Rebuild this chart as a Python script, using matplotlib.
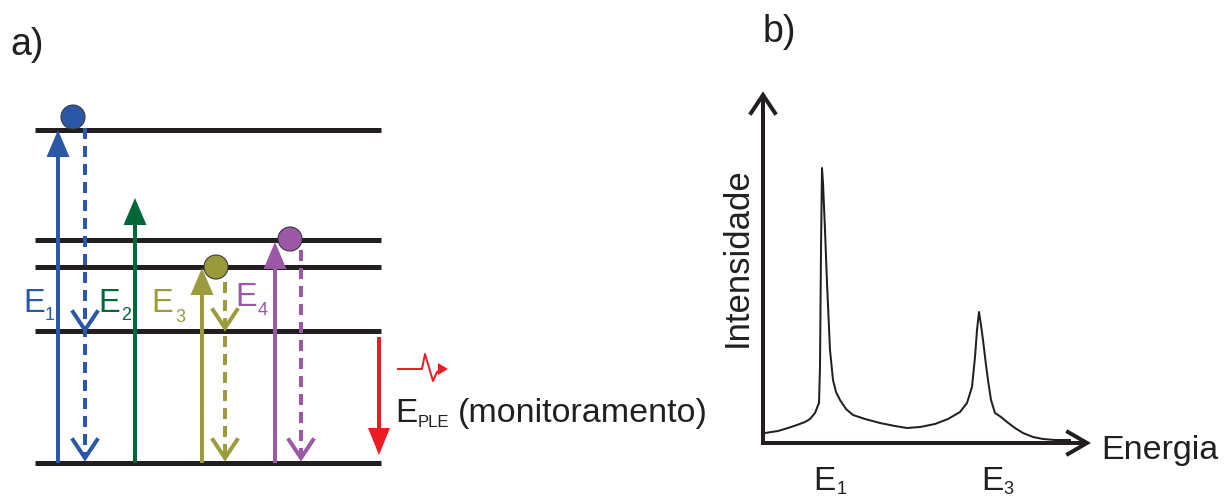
"""Diagrama de níveis de energia (a) e espectro de PLE esquemático (b)."""
import matplotlib
matplotlib.use("Agg")
import matplotlib.pyplot as plt
import matplotlib.patches as patches

plt.rcParams["font.family"] = ["Liberation Sans", "DejaVu Sans"]
plt.rcParams["lines.scale_dashes"] = False

PX = 0.72          # pontos por pixel (dpi 100)
INK = "#231f20"

# ---- painel a: níveis (y em pixels da figura) ----
LEVELS = [130, 240, 267, 331, 463]
LEVEL_X = (35, 381)
GROUND = 463

# setas de excitação
EXC_X = [58, 135, 202, 275]
EXC_TIP = [130, 198, 268, 242]
EXC_COLORS = ["#2b57a7", "#006838", "#9c9b3d", "#9b58a5"]
EXC_SUBS = ["1", "2", "3", "4"]
LABEL_X = [23, 98, 151, 235]
LABEL_Y = [312, 312, 312, 306]
SUB_X = [45, 121, 175, 258]
SUB_Y = [320, 320, 322, 315]

# emissões (tracejadas) com pontas abertas
DASH_X = [85, 225, 301]
DASH_TOP = [128, 282, 250]
DASH_HEADS = [[330, 458], [328, 458], [458]]
DASH_COLORS = ["#2b57a7", "#9c9b3d", "#9b58a5"]

# elétrons
DOT_X = [73, 216, 290]
DOT_Y = [117, 267, 239]
DOT_COLORS = ["#2b57a7", "#989a3b", "#9b58a5"]

# monitoramento
RED = "#ed1c24"
PLE_X, PLE_TOP, PLE_TIP = 379, 337, 455
WIGGLE_X = [398, 422, 425, 433, 437, 441]
WIGGLE_Y = [369, 369, 354, 381, 372, 369]

# ---- painel b: espectro (pixels da figura) ----
AX_ORIGIN = (763, 443)
AX_YTIP = 95
AX_XTIP = 1087
spec_x = [765, 778, 788, 797, 805, 810, 815, 819, 820, 821, 822, 823, 825,
          827, 830, 833, 836, 840, 846, 853, 865, 880, 895, 907, 920, 935,
          948, 960, 967, 972, 975, 977, 979, 981, 983, 986, 988, 991, 995,
          1001, 1007, 1015, 1023, 1033, 1043, 1055, 1070]
spec_y = [433, 431, 428, 425, 422, 419, 413, 403, 367, 250, 168, 183, 230,
          283, 350, 380, 392, 400, 409, 415, 419, 423, 426, 428, 427, 424,
          419, 412, 403, 387, 357, 330, 312, 325, 340, 365, 380, 400, 413,
          417, 422, 428, 433, 437, 439, 440, 440]
PEAK_LABELS = [("1", 813, 837), ("3", 981, 1003)]

fig = plt.figure(figsize=(12.26, 4.97), dpi=100)
ax = fig.add_axes([0, 0, 1, 1])
ax.set_xlim(0, 1226)
ax.set_ylim(497, 0)
ax.axis("off")

# níveis
for y in LEVELS:
    ax.plot(LEVEL_X, [y, y], color=INK, lw=5 * PX, solid_capstyle="butt",
            zorder=2)

# excitação
for x, tip, c in zip(EXC_X, EXC_TIP, EXC_COLORS):
    ax.add_patch(patches.FancyArrow(x, GROUND, 0, tip - GROUND, width=4,
                                    head_width=23, head_length=27,
                                    length_includes_head=True, color=c,
                                    lw=0, zorder=3))

for sub, lx, ly, sx, sy, c in zip(EXC_SUBS, LABEL_X, LABEL_Y, SUB_X, SUB_Y,
                                  EXC_COLORS):
    ax.text(lx, ly, "E", color=c, fontsize=23.5, va="baseline", ha="left")
    ax.text(sx, sy, sub, color=c, fontsize=13, va="baseline", ha="left")

# emissão
for x, top, heads, c in zip(DASH_X, DASH_TOP, DASH_HEADS, DASH_COLORS):
    ax.plot([x, x], [top, heads[-1]], color=c, lw=4 * PX,
            dashes=(11 * PX, 7 * PX), solid_capstyle="butt", zorder=3)
    for h in heads:
        ax.plot([x - 12, x, x + 12], [h - 18, h, h - 18], color=c,
                lw=4 * PX, solid_joinstyle="miter", zorder=3)

for x, y, c in zip(DOT_X, DOT_Y, DOT_COLORS):
    ax.add_patch(patches.Circle((x, y), 12, facecolor=c, edgecolor="#3a3a3a",
                                lw=0.8, zorder=5))

# seta de monitoramento
ax.add_patch(patches.FancyArrow(PLE_X, PLE_TOP, 0, PLE_TIP - PLE_TOP,
                                width=4, head_width=22, head_length=27,
                                length_includes_head=True, color=RED, lw=0,
                                zorder=3))
ax.plot(WIGGLE_X, WIGGLE_Y, color=RED, lw=2 * PX, zorder=3)
ax.add_patch(patches.Polygon([(438, 363), (448, 369), (438, 375)],
                             closed=True, color=RED, lw=0, zorder=3))
ax.text(395, 422, "E", color=INK, fontsize=24, va="baseline")
ax.text(418, 427, "PLE", color=INK, fontsize=12, va="baseline")
ax.text(458, 422, "(monitoramento)", color=INK, fontsize=24.5, va="baseline")

ax.text(10, 55, "a)", color=INK, fontsize=27, va="baseline")
ax.text(763, 42, "b)", color=INK, fontsize=27, va="baseline")

# painel b: eixos com setas abertas
ox, oy = AX_ORIGIN
ax.plot([ox, ox], [oy + 2, AX_YTIP], color=INK, lw=4 * PX,
        solid_capstyle="butt")
ax.plot([ox - 2, AX_XTIP], [oy, oy], color=INK, lw=4 * PX,
        solid_capstyle="butt")
ax.plot([ox - 12, ox, ox + 12], [AX_YTIP + 18, AX_YTIP, AX_YTIP + 18],
        color=INK, lw=4 * PX, solid_joinstyle="miter")
ax.plot([AX_XTIP - 19, AX_XTIP, AX_XTIP - 19], [oy - 11, oy, oy + 11],
        color=INK, lw=4 * PX, solid_joinstyle="miter")

ax.plot(spec_x, spec_y, color=INK, lw=2 * PX, solid_joinstyle="round")

ax.text(737, 257, "Intensidade", color=INK, fontsize=25, rotation=90,
        ha="center", va="center")
ax.text(1101, 459, "Energia", color=INK, fontsize=24.5, va="baseline")
for sub, ex, sx in PEAK_LABELS:
    ax.text(ex, 490, "E", color=INK, fontsize=24, va="baseline")
    ax.text(sx, 494, sub, color=INK, fontsize=13, va="baseline")

fig.savefig("out.png", dpi=100)
